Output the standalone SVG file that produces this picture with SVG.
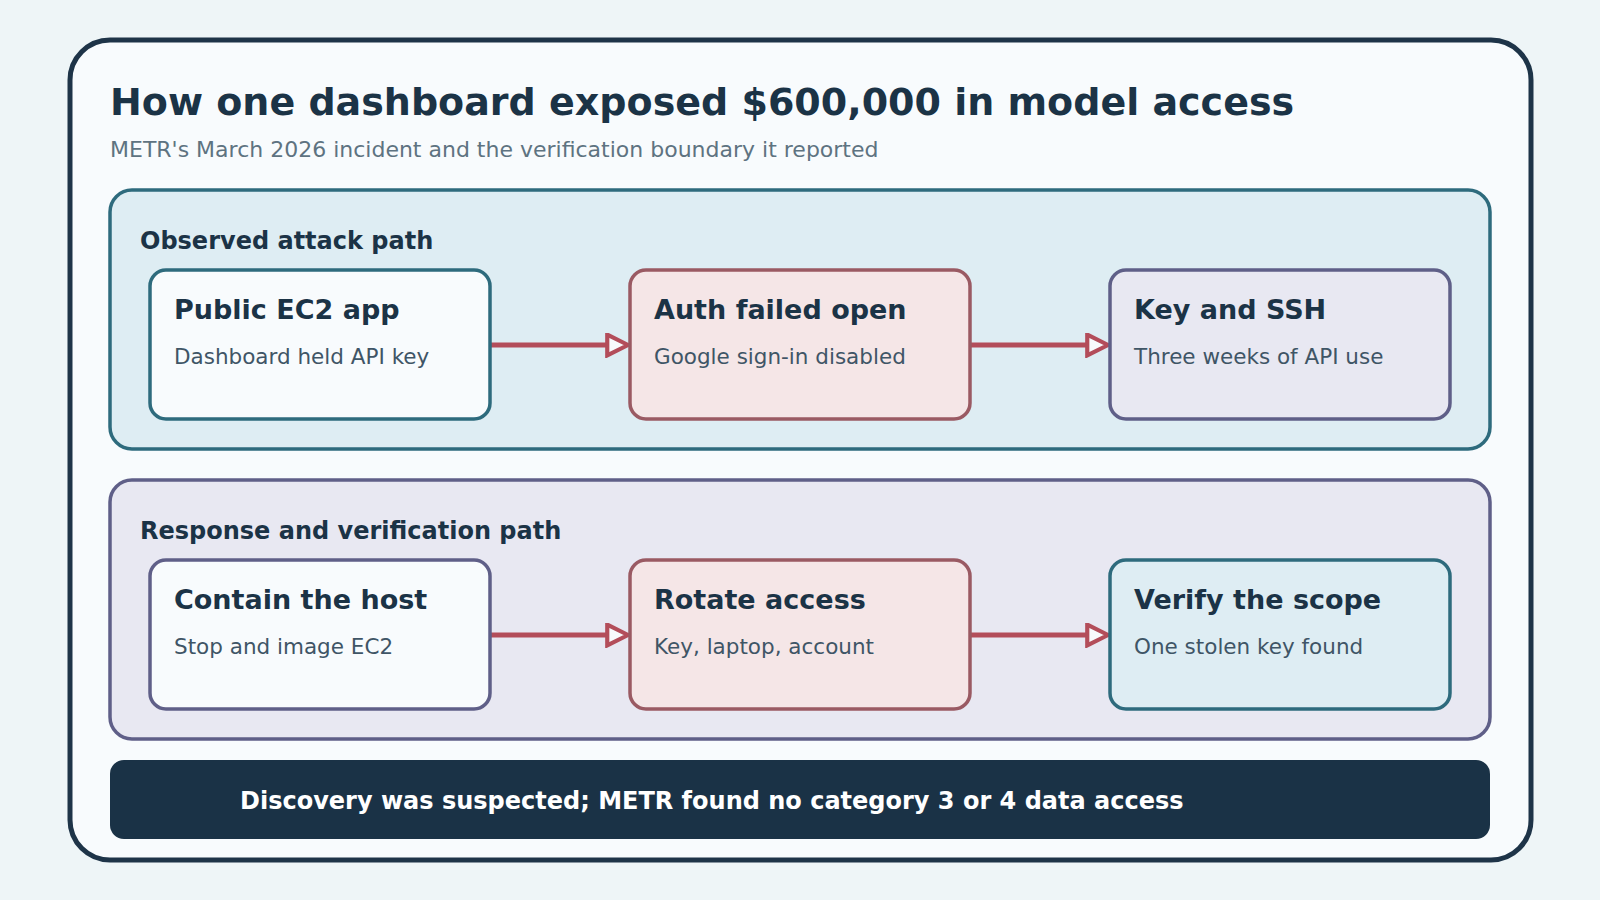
<svg xmlns="http://www.w3.org/2000/svg" width="1600" height="900" viewBox="0 0 1600 900">
<style>
text{font-family:"DejaVu Sans","Liberation Sans",sans-serif}
.t{font-size:27px;font-weight:bold;fill:#1b3346}
.s{font-size:21.5px;fill:#3f5566}
.pl{font-size:24px;font-weight:bold;fill:#1b3346}
.n{stroke-width:3.5}
.w{fill:#f8fbfd}
.r{fill:#f5e6e7;stroke:#9a5a63}
.p{fill:#e8e8f2;stroke:#5f5f88}
.b{fill:#deedf3;stroke:#2e6b7d}
.a{stroke:#b34d5a;stroke-width:5;fill:none}
</style>
<defs><marker id="ah" viewBox="0 0 12 12" refX="10" refY="6" markerWidth="5" markerHeight="5" orient="auto" markerUnits="strokeWidth"><path d="M1,1 L11,6 L1,11 Z" fill="#f8fbfd" stroke="#b34d5a" stroke-width="2"/></marker></defs>
<rect width="1600" height="900" fill="#eef5f7"/>
<rect x="70" y="40" width="1461" height="820" rx="40" fill="#f8fbfd" stroke="#1e3448" stroke-width="5"/>
<text x="110" y="115" font-size="38" font-weight="bold" fill="#1b3346">How one dashboard exposed $600,000 in model access</text>
<text x="110" y="157" font-size="22" fill="#5e7381">METR's March 2026 incident and the verification boundary it reported</text>
<rect x="110" y="190" width="1380" height="259" rx="22" class="b" stroke-width="3.5"/>
<text x="140" y="249" class="pl">Observed attack path</text>
<rect x="110" y="480" width="1380" height="259" rx="22" class="p" stroke-width="3.5"/>
<text x="140" y="539" class="pl">Response and verification path</text>
<g id="connectors">
<line x1="491" y1="345" x2="626" y2="345" class="a" marker-end="url(#ah)"/>
<line x1="970" y1="345" x2="1106" y2="345" class="a" marker-end="url(#ah)"/>
<line x1="491" y1="635" x2="626" y2="635" class="a" marker-end="url(#ah)"/>
<line x1="970" y1="635" x2="1106" y2="635" class="a" marker-end="url(#ah)"/>
</g>
<g id="n1"><rect x="150" y="270" width="340" height="149" rx="16" class="n w" stroke="#2e6b7d"/><text x="174" y="319" class="t">Public EC2 app</text><text x="174" y="364" class="s">Dashboard held API key</text></g>
<g id="n2"><rect x="630" y="270" width="340" height="149" rx="16" class="n r"/><text x="654" y="319" class="t">Auth failed open</text><text x="654" y="364" class="s">Google sign-in disabled</text></g>
<g id="n3"><rect x="1110" y="270" width="340" height="149" rx="16" class="n p"/><text x="1134" y="319" class="t">Key and SSH</text><text x="1134" y="364" class="s">Three weeks of API use</text></g>
<g id="n4"><rect x="150" y="560" width="340" height="149" rx="16" class="n w" stroke="#5f5f88"/><text x="174" y="609" class="t">Contain the host</text><text x="174" y="654" class="s">Stop and image EC2</text></g>
<g id="n5"><rect x="630" y="560" width="340" height="149" rx="16" class="n r"/><text x="654" y="609" class="t">Rotate access</text><text x="654" y="654" class="s">Key, laptop, account</text></g>
<g id="n6"><rect x="1110" y="560" width="340" height="149" rx="16" class="n b"/><text x="1134" y="609" class="t">Verify the scope</text><text x="1134" y="654" class="s">One stolen key found</text></g>
<g id="footer"><rect x="110" y="760" width="1380" height="79" rx="14" fill="#1a3246"/><text x="240" y="809" font-size="24" font-weight="bold" fill="#ffffff">Discovery was suspected; METR found no category 3 or 4 data access</text></g>
</svg>
